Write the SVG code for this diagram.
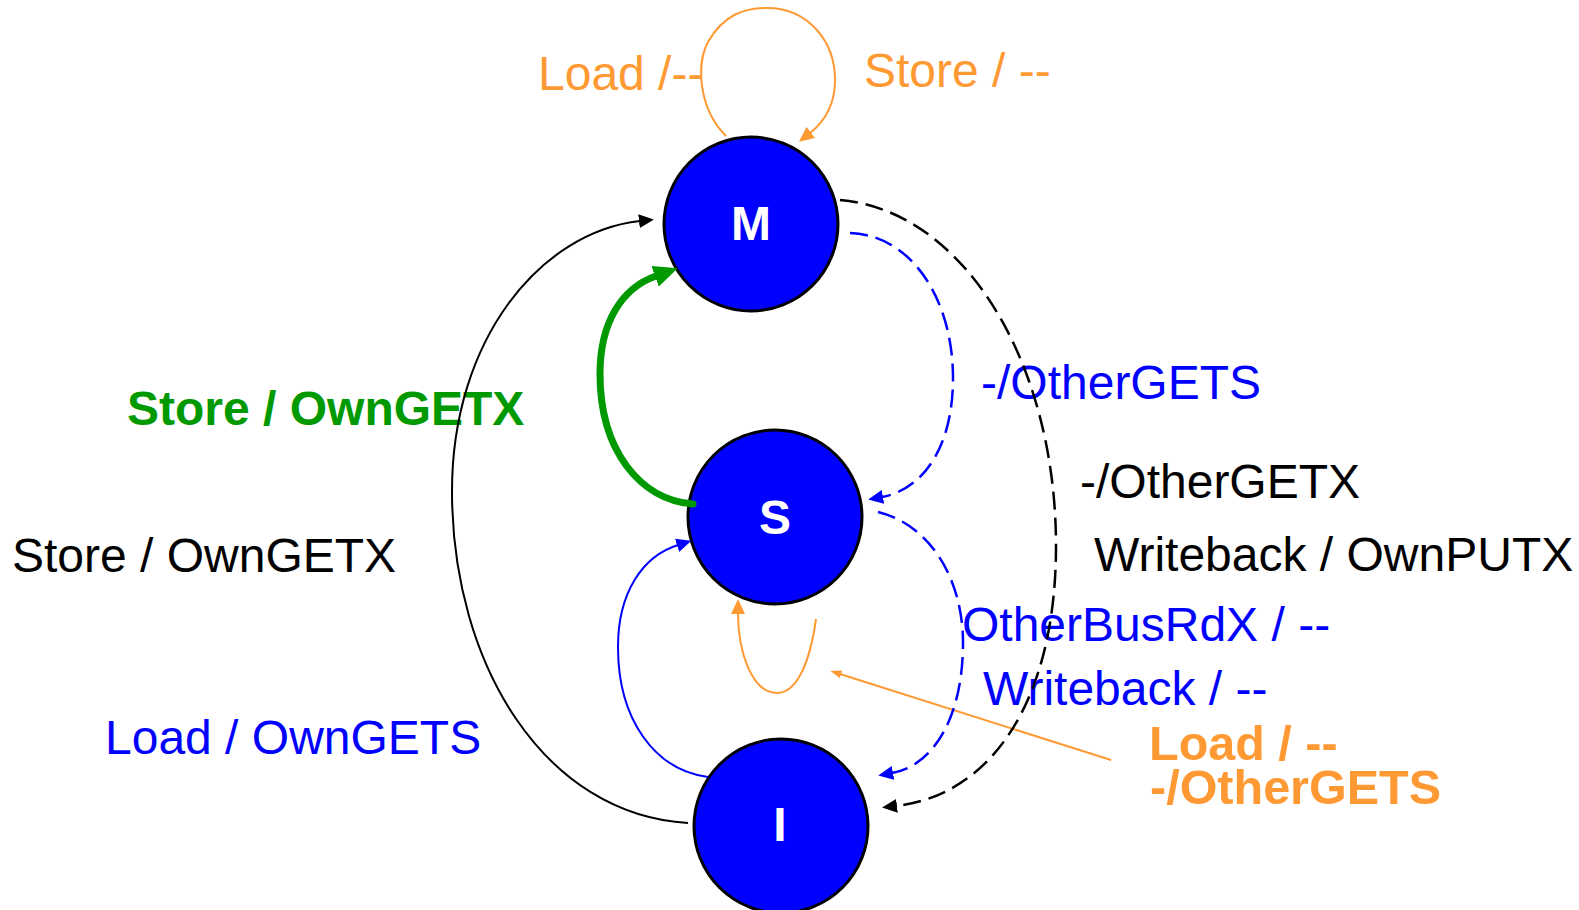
<svg xmlns="http://www.w3.org/2000/svg" width="1579" height="910" viewBox="0 0 1579 910">
  <style>
    .lbl { font-family: "Liberation Sans", Arial, sans-serif; font-size: 48px; }
    .b { font-weight: bold; }
    .big { font-size: 48.5px; }
    .blue { fill: #0000ff; }
    .black { fill: #000000; }
    .orange { fill: #ff9933; }
    .green { fill: #009900; }
    .state circle { fill: #0000ff; stroke: #000000; stroke-width: 3; }
    .state text { font-family: "Liberation Sans", Arial, sans-serif; font-weight: bold; font-size: 48px; fill: #ffffff; text-anchor: middle; }
    .edge { fill: none; stroke-width: 2; }
    .thick { stroke-width: 7; stroke-linecap: round; }
    .dash { stroke-width: 2.5; stroke-dasharray: 18 8; }
  </style>
  <defs>
    <marker id="arrBlack" markerUnits="userSpaceOnUse" viewBox="0 0 15 14" refX="1" refY="7" markerWidth="15" markerHeight="14" orient="auto">
      <path d="M0,0 L15,7 L0,14 z" fill="#000000"/>
    </marker>
    <marker id="arrBlue" markerUnits="userSpaceOnUse" viewBox="0 0 15 14" refX="1" refY="7" markerWidth="15" markerHeight="14" orient="auto">
      <path d="M0,0 L15,7 L0,14 z" fill="#0000ff"/>
    </marker>
    <marker id="arrOrange" markerUnits="userSpaceOnUse" viewBox="0 0 15 14" refX="1" refY="7" markerWidth="15" markerHeight="14" orient="auto">
      <path d="M0,0 L15,7 L0,14 z" fill="#ff9933"/>
    </marker>
    <marker id="arrOrangeSmall" markerUnits="userSpaceOnUse" viewBox="0 0 11 8" refX="1" refY="4" markerWidth="11" markerHeight="8" orient="auto">
      <path d="M0,0 L11,4 L0,8 z" fill="#ff9933"/>
    </marker>
    <marker id="arrGreen" markerUnits="userSpaceOnUse" viewBox="0 0 24 22" refX="1" refY="11" markerWidth="24" markerHeight="22" orient="auto">
      <path d="M0,0 L24,11 L0,22 z" fill="#009900"/>
    </marker>
  </defs>

  <!-- transition labels -->
  <g id="labels" class="lbl">
    <text class="orange" x="538" y="90">Load /--</text>
    <text class="orange" x="864" y="87">Store / --</text>
    <text class="b green" x="127" y="425">Store / OwnGETX</text>
    <text class="black" x="12" y="572">Store / OwnGETX</text>
    <text class="blue" x="105" y="754">Load / OwnGETS</text>
    <text class="blue" x="981" y="399">-/OtherGETS</text>
    <text class="black" x="1080" y="498">-/OtherGETX</text>
    <text class="black" x="1094" y="571">Writeback / OwnPUTX</text>
    <text class="blue" x="962" y="641">OtherBusRdX / --</text>
    <text class="blue" x="983" y="705">Writeback / --</text>
    <text class="b big orange" x="1149" y="760">Load / --</text>
    <text class="b big orange" x="1150" y="804">-/OtherGETS</text>
  </g>

  <!-- states -->
  <g id="node-M" class="state">
    <circle cx="751" cy="224" r="87"/>
    <text x="751" y="240">M</text>
  </g>
  <g id="node-S" class="state">
    <circle cx="775" cy="517" r="87"/>
    <text x="775" y="534">S</text>
  </g>
  <g id="node-I" class="state">
    <circle cx="781" cy="826" r="87"/>
    <text x="780" y="841">I</text>
  </g>

  <!-- transitions -->
  <g id="connectors">
    <!-- M self loop -->
    <path class="edge" stroke="#ff9933" d="M726,136 C697,107 697,62 708,42 C724,14 745,8 767,8 C807,8 835,40 835,80 C835,106 824,122 810,133" marker-end="url(#arrOrange)"/>
    <!-- I -> M -->
    <path class="edge" stroke="#000000" d="M688,823 C545,815 452,665 452,491 C452,340 540,232 640,221" marker-end="url(#arrBlack)"/>
    <!-- S -> M -->
    <path class="edge thick" stroke="#009900" d="M693,504 C640,500 600,450 600,374 C600,322 622,288 656,276" marker-end="url(#arrGreen)"/>
    <!-- I -> S -->
    <path class="edge" stroke="#0000ff" d="M708,777 C655,770 618,720 618,647 C618,592 643,556 678,545" marker-end="url(#arrBlue)"/>
    <!-- S self loop -->
    <path class="edge" stroke="#ff9933" d="M816,619 C810,662 797,693 777,693 C752,693 738,652 738,613" marker-end="url(#arrOrange)"/>
    <!-- label pointer -->
    <path class="edge" stroke="#ff9933" d="M1111,760 L840,674" marker-end="url(#arrOrangeSmall)"/>
    <!-- M -> S -->
    <path class="edge dash" stroke="#0000ff" d="M850,233 C912,235 953,300 953,378 C953,450 921,490 882,497" marker-end="url(#arrBlue)"/>
    <!-- S -> I -->
    <path class="edge dash" stroke="#0000ff" d="M878,512 C931,525 963,580 963,643 C963,715 935,765 892,773" marker-end="url(#arrBlue)"/>
    <!-- M -> I -->
    <path class="edge dash" stroke="#000000" d="M840,200 C962,210 1056,360 1056,546 C1056,700 992,795 896,806" marker-end="url(#arrBlack)"/>
  </g>
</svg>
